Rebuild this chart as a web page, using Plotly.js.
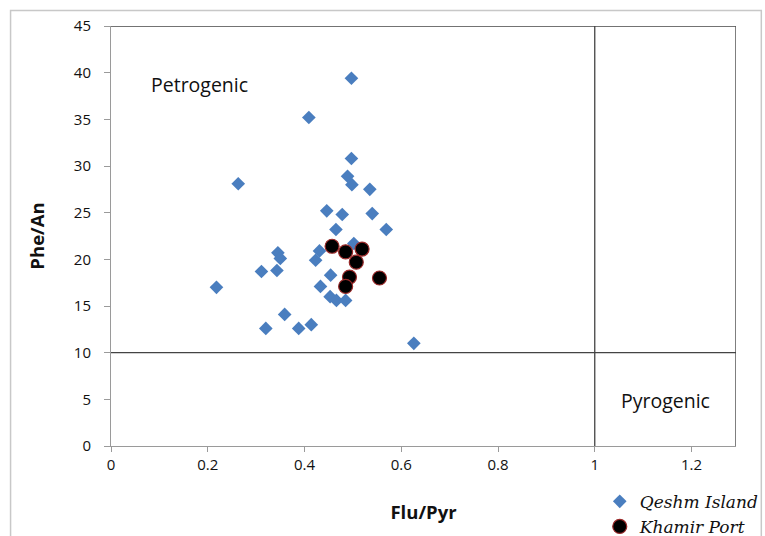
<!DOCTYPE html>
<html>
<head>
<meta charset="utf-8">
<script src="https://cdn.plot.ly/plotly-3.0.1.min.js"></script>
<style>
html,body{margin:0;padding:0;background:#fff;}
#chart{width:765px;height:536px;}
</style>
</head>
<body>
<div id="chart"></div>
<script>
// Qeshm Island (blue diamonds)
var qeshmX = [0.497, 0.409, 0.497, 0.263, 0.489, 0.498, 0.535,
              0.446, 0.478, 0.540, 0.569, 0.465, 0.502, 0.431, 0.345, 0.350,
              0.423, 0.311, 0.343, 0.454, 0.218, 0.433, 0.453, 0.466, 0.485,
              0.359, 0.320, 0.388, 0.414, 0.626];
var qeshmY = [39.4, 35.2, 30.8, 28.1, 28.9, 28.0, 27.5,
              25.2, 24.8, 24.9, 23.2, 23.2, 21.7, 20.9, 20.7, 20.1,
              19.9, 18.7, 18.8, 18.3, 17.0, 17.1, 16.0, 15.6, 15.6,
              14.1, 12.6, 12.6, 13.0, 11.0];
// Khamir Port (black circles)
var khamirX = [0.457, 0.485, 0.519, 0.507, 0.493, 0.485, 0.555];
var khamirY = [21.4, 20.8, 21.1, 19.7, 18.1, 17.1, 18.0];

var xTicks = [0, 0.2, 0.4, 0.6, 0.8, 1, 1.2];
var xTickText = ['0', '0.2', '0.4', '0.6', '0.8', '1', '1.2'];
var yTicks = [0, 5, 10, 15, 20, 25, 30, 35, 40, 45];

var xMax = 1.292, yMax = 45;
var boundaryX = 1, boundaryY = 10;

var FONT = 'Open Sans, Liberation Sans, sans-serif';

var traces = [
  {
    x: qeshmX, y: qeshmY, type: 'scatter', mode: 'markers', name: 'Qeshm Island',
    marker: {symbol: 'diamond', size: 10.5, color: '#4a7ebf', line: {width: 0}},
    cliponaxis: false
  },
  {
    x: khamirX, y: khamirY, type: 'scatter', mode: 'markers', name: 'Khamir Port',
    marker: {symbol: 'circle', size: 14, color: '#000000', line: {width: 1.2, color: '#9a2a2a'}},
    cliponaxis: false
  }
];

var layout = {
  width: 765, height: 536,
  margin: {l: 110.5, r: 29.3, t: 25.7, b: 89.5, autoexpand: false},
  paper_bgcolor: '#ffffff', plot_bgcolor: '#ffffff',
  showlegend: true,
  legend: {
    x: 0.782, y: -0.09, xanchor: 'left', yanchor: 'top',
    font: {family: 'DejaVu Serif, Liberation Serif, serif', size: 17, color: '#111', style: 'italic'},
    bgcolor: 'rgba(0,0,0,0)', tracegroupgap: 0, itemwidth: 30
  },
  xaxis: {
    range: [0, xMax], tickvals: xTicks, ticktext: xTickText, automargin: false,
    showgrid: false, zeroline: false,
    showline: true, linecolor: '#9a9a9a', linewidth: 1,
    ticks: 'outside', ticklen: 5, tickcolor: '#9a9a9a',
    tickfont: {family: FONT, size: 15, color: '#111'},
    title: {text: '<b>Flu/Pyr</b>', font: {family: FONT, size: 18.5, color: '#111'}, standoff: 33}
  },
  yaxis: {
    range: [0, yMax], tickvals: yTicks, automargin: false,
    showgrid: false, zeroline: false,
    showline: true, linecolor: '#9a9a9a', linewidth: 1,
    ticks: 'outside', ticklen: 6, tickcolor: '#9a9a9a', ticklabelstandoff: 10,
    tickfont: {family: FONT, size: 15, color: '#111'},
    title: {text: '<b>Phe/An</b>', font: {family: FONT, size: 18.5, color: '#111'}, standoff: 24}
  },
  shapes: [
    // outer chart frame
    {type: 'rect', xref: 'paper', yref: 'paper', x0: -0.1607, x1: 1.0405, y0: -0.25, y1: 1.0368,
     line: {color: '#c8c8c8', width: 1.5}, layer: 'below'},
    // top border
    {type: 'line', xref: 'x', yref: 'y', x0: 0, x1: xMax, y0: yMax, y1: yMax, line: {color: '#444', width: 1.5}},
    // right border
    {type: 'line', xref: 'x', yref: 'y', x0: xMax, x1: xMax, y0: 0, y1: yMax, line: {color: '#555', width: 1.5}},
    // horizontal boundary y=10
    {type: 'line', xref: 'x', yref: 'y', x0: 0, x1: xMax, y0: boundaryY, y1: boundaryY, line: {color: '#444', width: 1.3}},
    // vertical boundary x=1
    {type: 'line', xref: 'x', yref: 'y', x0: boundaryX, x1: boundaryX, y0: 0, y1: yMax, line: {color: '#444', width: 1.3}}
  ],
  annotations: [
    {x: 0.183, y: 38.7, xref: 'x', yref: 'y', text: 'Petrogenic', showarrow: false,
     font: {family: FONT, size: 19.5, color: '#111'}},
    {x: 1.146, y: 4.9, xref: 'x', yref: 'y', text: 'Pyrogenic', showarrow: false,
     font: {family: FONT, size: 19.5, color: '#111'}}
  ]
};

Plotly.newPlot('chart', traces, layout, {displayModeBar: false, staticPlot: true});
</script>
</body>
</html>
